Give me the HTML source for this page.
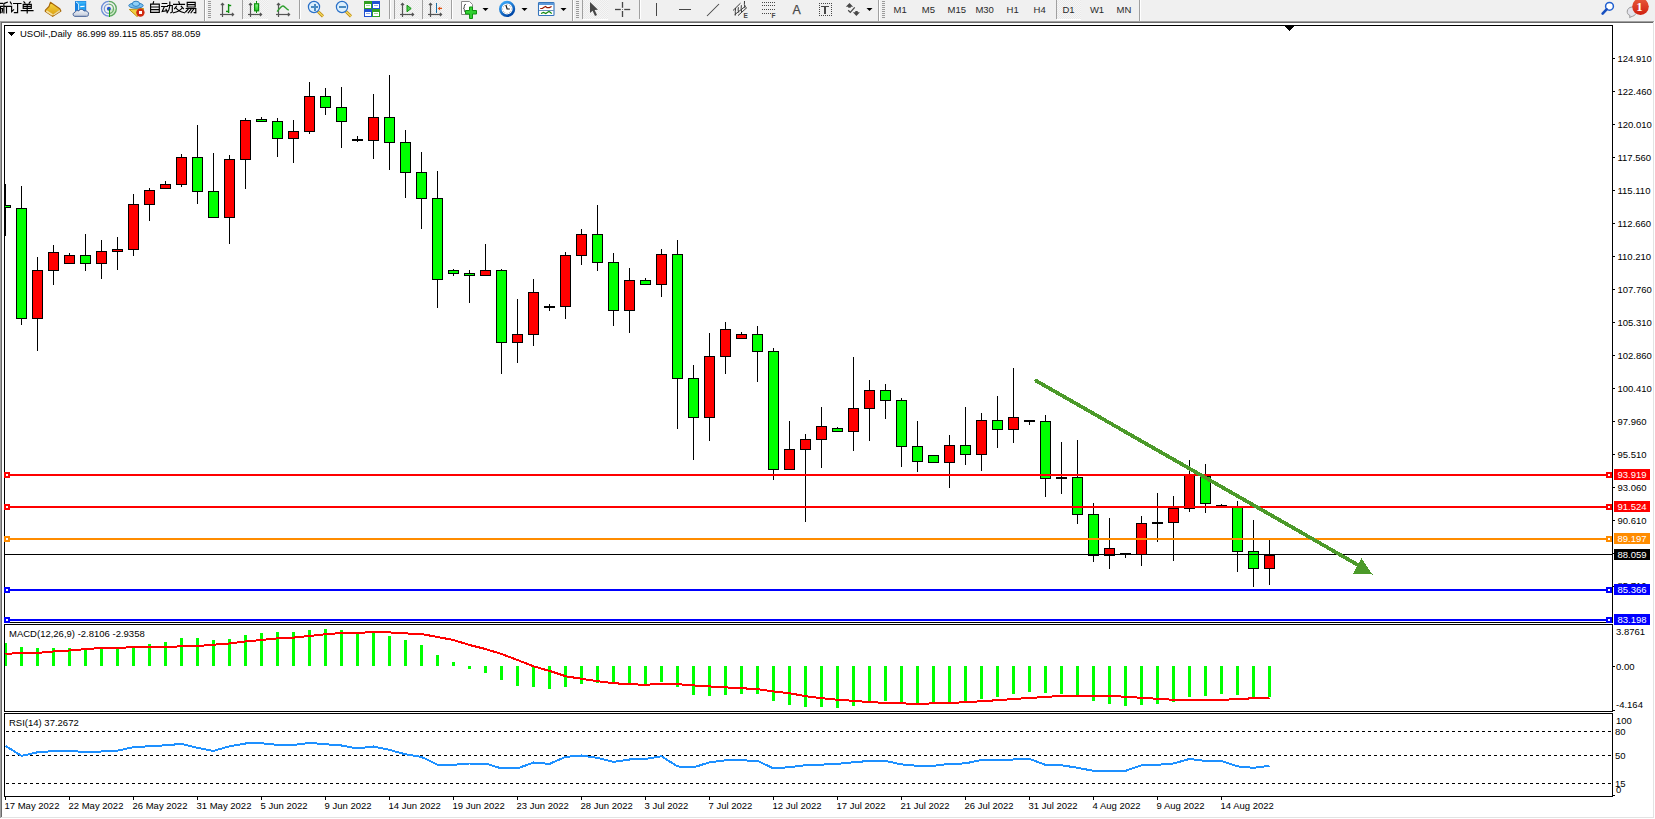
<!DOCTYPE html>
<html><head><meta charset="utf-8"><title>USOil Daily</title>
<style>
html,body{margin:0;padding:0;background:#fff;}
body{width:1655px;height:819px;overflow:hidden;position:relative;}
svg{position:absolute;left:0;top:0;display:block;}
.t{font-family:"Liberation Sans", sans-serif;font-size:9.5px;fill:#000;white-space:pre;}
.tw{fill:#fff;}
.tb{font-family:"Liberation Sans", sans-serif;font-size:9.5px;fill:#2a2a2a;}
</style></head>
<body>
<svg width="1655" height="819" viewBox="0 0 1655 819" shape-rendering="crispEdges" xml:space="preserve">
<rect x="0" y="0" width="1655" height="819" fill="#FFFFFF"/>
<rect x="0" y="0" width="1655" height="21" fill="#F0F0F0"/>
<rect x="0" y="21" width="1654" height="1" fill="#A0A0A0"/>
<rect x="0" y="22" width="1653" height="1" fill="#696969"/>
<rect x="0" y="21" width="1" height="797" fill="#A0A0A0"/>
<rect x="1" y="22" width="1" height="795" fill="#696969"/>
<rect x="1653" y="22" width="1" height="796" fill="#E3E3E3"/>
<rect x="1" y="817" width="1653" height="1" fill="#E3E3E3"/>
<rect x="1654" y="21" width="1" height="798" fill="#FFFFFF"/>
<rect x="0" y="818" width="1655" height="1" fill="#FFFFFF"/>
<rect x="4" y="25" width="1609" height="1" fill="#000"/>
<rect x="4" y="622" width="1609" height="1" fill="#000"/>
<rect x="4" y="25" width="1" height="598" fill="#000"/>
<rect x="1612" y="25" width="1" height="598" fill="#000"/>
<rect x="4" y="624" width="1609" height="1" fill="#000"/>
<rect x="4" y="711" width="1609" height="1" fill="#000"/>
<rect x="4" y="624" width="1" height="88" fill="#000"/>
<rect x="1612" y="624" width="1" height="88" fill="#000"/>
<rect x="4" y="713" width="1609" height="1" fill="#000"/>
<rect x="4" y="796" width="1609" height="1" fill="#000"/>
<rect x="4" y="713" width="1" height="84" fill="#000"/>
<rect x="1612" y="713" width="1" height="84" fill="#000"/>
<defs><clipPath id="mc"><rect x="5" y="26" width="1607" height="596"/></clipPath><clipPath id="mac"><rect x="5" y="625" width="1607" height="86"/></clipPath><clipPath id="rsc"><rect x="5" y="714" width="1607" height="82"/></clipPath></defs>
<g clip-path="url(#mc)">
<rect x="5" y="184" width="1" height="52" fill="#000"/>
<rect x="0" y="205" width="11" height="3" fill="#000"/>
<rect x="1" y="206" width="9" height="1" fill="#00FF00"/>
<rect x="21" y="186" width="1" height="139" fill="#000"/>
<rect x="16" y="208" width="11" height="111" fill="#000"/>
<rect x="17" y="209" width="9" height="109" fill="#00FF00"/>
<rect x="37" y="257" width="1" height="94" fill="#000"/>
<rect x="32" y="270" width="11" height="49" fill="#000"/>
<rect x="33" y="271" width="9" height="47" fill="#FF0000"/>
<rect x="53" y="245" width="1" height="40" fill="#000"/>
<rect x="48" y="252" width="11" height="19" fill="#000"/>
<rect x="49" y="253" width="9" height="17" fill="#FF0000"/>
<rect x="69" y="253" width="1" height="11" fill="#000"/>
<rect x="64" y="255" width="11" height="9" fill="#000"/>
<rect x="65" y="256" width="9" height="7" fill="#FF0000"/>
<rect x="85" y="234" width="1" height="37" fill="#000"/>
<rect x="80" y="255" width="11" height="9" fill="#000"/>
<rect x="81" y="256" width="9" height="7" fill="#00FF00"/>
<rect x="101" y="240" width="1" height="39" fill="#000"/>
<rect x="96" y="251" width="11" height="13" fill="#000"/>
<rect x="97" y="252" width="9" height="11" fill="#FF0000"/>
<rect x="117" y="237" width="1" height="33" fill="#000"/>
<rect x="112" y="249" width="11" height="3" fill="#000"/>
<rect x="113" y="250" width="9" height="1" fill="#FF0000"/>
<rect x="133" y="194" width="1" height="62" fill="#000"/>
<rect x="128" y="204" width="11" height="46" fill="#000"/>
<rect x="129" y="205" width="9" height="44" fill="#FF0000"/>
<rect x="149" y="188" width="1" height="33" fill="#000"/>
<rect x="144" y="190" width="11" height="15" fill="#000"/>
<rect x="145" y="191" width="9" height="13" fill="#FF0000"/>
<rect x="165" y="181" width="1" height="8" fill="#000"/>
<rect x="160" y="184" width="11" height="5" fill="#000"/>
<rect x="161" y="185" width="9" height="3" fill="#FF0000"/>
<rect x="181" y="154" width="1" height="33" fill="#000"/>
<rect x="176" y="157" width="11" height="28" fill="#000"/>
<rect x="177" y="158" width="9" height="26" fill="#FF0000"/>
<rect x="197" y="125" width="1" height="79" fill="#000"/>
<rect x="192" y="157" width="11" height="35" fill="#000"/>
<rect x="193" y="158" width="9" height="33" fill="#00FF00"/>
<rect x="213" y="153" width="1" height="65" fill="#000"/>
<rect x="208" y="191" width="11" height="27" fill="#000"/>
<rect x="209" y="192" width="9" height="25" fill="#00FF00"/>
<rect x="229" y="155" width="1" height="89" fill="#000"/>
<rect x="224" y="159" width="11" height="59" fill="#000"/>
<rect x="225" y="160" width="9" height="57" fill="#FF0000"/>
<rect x="245" y="118" width="1" height="71" fill="#000"/>
<rect x="240" y="120" width="11" height="40" fill="#000"/>
<rect x="241" y="121" width="9" height="38" fill="#FF0000"/>
<rect x="261" y="117" width="1" height="5" fill="#000"/>
<rect x="256" y="119" width="11" height="3" fill="#000"/>
<rect x="257" y="120" width="9" height="1" fill="#00FF00"/>
<rect x="277" y="118" width="1" height="39" fill="#000"/>
<rect x="272" y="121" width="11" height="18" fill="#000"/>
<rect x="273" y="122" width="9" height="16" fill="#00FF00"/>
<rect x="293" y="120" width="1" height="43" fill="#000"/>
<rect x="288" y="131" width="11" height="8" fill="#000"/>
<rect x="289" y="132" width="9" height="6" fill="#FF0000"/>
<rect x="309" y="82" width="1" height="52" fill="#000"/>
<rect x="304" y="96" width="11" height="36" fill="#000"/>
<rect x="305" y="97" width="9" height="34" fill="#FF0000"/>
<rect x="325" y="88" width="1" height="27" fill="#000"/>
<rect x="320" y="96" width="11" height="12" fill="#000"/>
<rect x="321" y="97" width="9" height="10" fill="#00FF00"/>
<rect x="341" y="87" width="1" height="61" fill="#000"/>
<rect x="336" y="107" width="11" height="15" fill="#000"/>
<rect x="337" y="108" width="9" height="13" fill="#00FF00"/>
<rect x="357" y="136" width="1" height="6" fill="#000"/>
<rect x="352" y="139" width="11" height="2" fill="#000"/>
<rect x="373" y="94" width="1" height="65" fill="#000"/>
<rect x="368" y="117" width="11" height="24" fill="#000"/>
<rect x="369" y="118" width="9" height="22" fill="#FF0000"/>
<rect x="389" y="75" width="1" height="95" fill="#000"/>
<rect x="384" y="117" width="11" height="26" fill="#000"/>
<rect x="385" y="118" width="9" height="24" fill="#00FF00"/>
<rect x="405" y="130" width="1" height="68" fill="#000"/>
<rect x="400" y="142" width="11" height="31" fill="#000"/>
<rect x="401" y="143" width="9" height="29" fill="#00FF00"/>
<rect x="421" y="152" width="1" height="77" fill="#000"/>
<rect x="416" y="172" width="11" height="27" fill="#000"/>
<rect x="417" y="173" width="9" height="25" fill="#00FF00"/>
<rect x="437" y="171" width="1" height="137" fill="#000"/>
<rect x="432" y="198" width="11" height="82" fill="#000"/>
<rect x="433" y="199" width="9" height="80" fill="#00FF00"/>
<rect x="453" y="269" width="1" height="7" fill="#000"/>
<rect x="448" y="270" width="11" height="4" fill="#000"/>
<rect x="449" y="271" width="9" height="2" fill="#00FF00"/>
<rect x="469" y="270" width="1" height="33" fill="#000"/>
<rect x="464" y="273" width="11" height="3" fill="#000"/>
<rect x="465" y="274" width="9" height="1" fill="#00FF00"/>
<rect x="485" y="244" width="1" height="32" fill="#000"/>
<rect x="480" y="270" width="11" height="6" fill="#000"/>
<rect x="481" y="271" width="9" height="4" fill="#FF0000"/>
<rect x="501" y="269" width="1" height="105" fill="#000"/>
<rect x="496" y="270" width="11" height="73" fill="#000"/>
<rect x="497" y="271" width="9" height="71" fill="#00FF00"/>
<rect x="517" y="299" width="1" height="64" fill="#000"/>
<rect x="512" y="334" width="11" height="9" fill="#000"/>
<rect x="513" y="335" width="9" height="7" fill="#FF0000"/>
<rect x="533" y="279" width="1" height="67" fill="#000"/>
<rect x="528" y="292" width="11" height="43" fill="#000"/>
<rect x="529" y="293" width="9" height="41" fill="#FF0000"/>
<rect x="549" y="304" width="1" height="7" fill="#000"/>
<rect x="544" y="306" width="11" height="2" fill="#000"/>
<rect x="565" y="252" width="1" height="67" fill="#000"/>
<rect x="560" y="255" width="11" height="52" fill="#000"/>
<rect x="561" y="256" width="9" height="50" fill="#FF0000"/>
<rect x="581" y="229" width="1" height="36" fill="#000"/>
<rect x="576" y="234" width="11" height="22" fill="#000"/>
<rect x="577" y="235" width="9" height="20" fill="#FF0000"/>
<rect x="597" y="205" width="1" height="66" fill="#000"/>
<rect x="592" y="234" width="11" height="29" fill="#000"/>
<rect x="593" y="235" width="9" height="27" fill="#00FF00"/>
<rect x="613" y="253" width="1" height="73" fill="#000"/>
<rect x="608" y="262" width="11" height="49" fill="#000"/>
<rect x="609" y="263" width="9" height="47" fill="#00FF00"/>
<rect x="629" y="268" width="1" height="65" fill="#000"/>
<rect x="624" y="280" width="11" height="31" fill="#000"/>
<rect x="625" y="281" width="9" height="29" fill="#FF0000"/>
<rect x="645" y="278" width="1" height="7" fill="#000"/>
<rect x="640" y="280" width="11" height="5" fill="#000"/>
<rect x="641" y="281" width="9" height="3" fill="#00FF00"/>
<rect x="661" y="249" width="1" height="48" fill="#000"/>
<rect x="656" y="254" width="11" height="31" fill="#000"/>
<rect x="657" y="255" width="9" height="29" fill="#FF0000"/>
<rect x="677" y="240" width="1" height="189" fill="#000"/>
<rect x="672" y="254" width="11" height="125" fill="#000"/>
<rect x="673" y="255" width="9" height="123" fill="#00FF00"/>
<rect x="693" y="365" width="1" height="95" fill="#000"/>
<rect x="688" y="378" width="11" height="40" fill="#000"/>
<rect x="689" y="379" width="9" height="38" fill="#00FF00"/>
<rect x="709" y="333" width="1" height="108" fill="#000"/>
<rect x="704" y="356" width="11" height="62" fill="#000"/>
<rect x="705" y="357" width="9" height="60" fill="#FF0000"/>
<rect x="725" y="322" width="1" height="52" fill="#000"/>
<rect x="720" y="329" width="11" height="28" fill="#000"/>
<rect x="721" y="330" width="9" height="26" fill="#FF0000"/>
<rect x="741" y="332" width="1" height="7" fill="#000"/>
<rect x="736" y="334" width="11" height="5" fill="#000"/>
<rect x="737" y="335" width="9" height="3" fill="#FF0000"/>
<rect x="757" y="326" width="1" height="56" fill="#000"/>
<rect x="752" y="334" width="11" height="18" fill="#000"/>
<rect x="753" y="335" width="9" height="16" fill="#00FF00"/>
<rect x="773" y="348" width="1" height="132" fill="#000"/>
<rect x="768" y="351" width="11" height="119" fill="#000"/>
<rect x="769" y="352" width="9" height="117" fill="#00FF00"/>
<rect x="789" y="421" width="1" height="49" fill="#000"/>
<rect x="784" y="449" width="11" height="21" fill="#000"/>
<rect x="785" y="450" width="9" height="19" fill="#FF0000"/>
<rect x="805" y="434" width="1" height="88" fill="#000"/>
<rect x="800" y="439" width="11" height="11" fill="#000"/>
<rect x="801" y="440" width="9" height="9" fill="#FF0000"/>
<rect x="821" y="407" width="1" height="61" fill="#000"/>
<rect x="816" y="426" width="11" height="14" fill="#000"/>
<rect x="817" y="427" width="9" height="12" fill="#FF0000"/>
<rect x="837" y="427" width="1" height="5" fill="#000"/>
<rect x="832" y="428" width="11" height="4" fill="#000"/>
<rect x="833" y="429" width="9" height="2" fill="#00FF00"/>
<rect x="853" y="357" width="1" height="94" fill="#000"/>
<rect x="848" y="408" width="11" height="24" fill="#000"/>
<rect x="849" y="409" width="9" height="22" fill="#FF0000"/>
<rect x="869" y="380" width="1" height="61" fill="#000"/>
<rect x="864" y="390" width="11" height="19" fill="#000"/>
<rect x="865" y="391" width="9" height="17" fill="#FF0000"/>
<rect x="885" y="384" width="1" height="35" fill="#000"/>
<rect x="880" y="390" width="11" height="11" fill="#000"/>
<rect x="881" y="391" width="9" height="9" fill="#00FF00"/>
<rect x="901" y="398" width="1" height="69" fill="#000"/>
<rect x="896" y="400" width="11" height="47" fill="#000"/>
<rect x="897" y="401" width="9" height="45" fill="#00FF00"/>
<rect x="917" y="421" width="1" height="51" fill="#000"/>
<rect x="912" y="446" width="11" height="16" fill="#000"/>
<rect x="913" y="447" width="9" height="14" fill="#00FF00"/>
<rect x="933" y="455" width="1" height="8" fill="#000"/>
<rect x="928" y="455" width="11" height="8" fill="#000"/>
<rect x="929" y="456" width="9" height="6" fill="#00FF00"/>
<rect x="949" y="435" width="1" height="53" fill="#000"/>
<rect x="944" y="445" width="11" height="18" fill="#000"/>
<rect x="945" y="446" width="9" height="16" fill="#FF0000"/>
<rect x="965" y="407" width="1" height="58" fill="#000"/>
<rect x="960" y="445" width="11" height="10" fill="#000"/>
<rect x="961" y="446" width="9" height="8" fill="#00FF00"/>
<rect x="981" y="413" width="1" height="58" fill="#000"/>
<rect x="976" y="420" width="11" height="35" fill="#000"/>
<rect x="977" y="421" width="9" height="33" fill="#FF0000"/>
<rect x="997" y="396" width="1" height="52" fill="#000"/>
<rect x="992" y="420" width="11" height="10" fill="#000"/>
<rect x="993" y="421" width="9" height="8" fill="#00FF00"/>
<rect x="1013" y="368" width="1" height="75" fill="#000"/>
<rect x="1008" y="417" width="11" height="13" fill="#000"/>
<rect x="1009" y="418" width="9" height="11" fill="#FF0000"/>
<rect x="1029" y="420" width="1" height="5" fill="#000"/>
<rect x="1024" y="420" width="11" height="2" fill="#000"/>
<rect x="1045" y="415" width="1" height="82" fill="#000"/>
<rect x="1040" y="421" width="11" height="58" fill="#000"/>
<rect x="1041" y="422" width="9" height="56" fill="#00FF00"/>
<rect x="1061" y="442" width="1" height="52" fill="#000"/>
<rect x="1056" y="477" width="11" height="2" fill="#000"/>
<rect x="1077" y="440" width="1" height="84" fill="#000"/>
<rect x="1072" y="477" width="11" height="38" fill="#000"/>
<rect x="1073" y="478" width="9" height="36" fill="#00FF00"/>
<rect x="1093" y="503" width="1" height="59" fill="#000"/>
<rect x="1088" y="514" width="11" height="42" fill="#000"/>
<rect x="1089" y="515" width="9" height="40" fill="#00FF00"/>
<rect x="1109" y="518" width="1" height="51" fill="#000"/>
<rect x="1104" y="548" width="11" height="8" fill="#000"/>
<rect x="1105" y="549" width="9" height="6" fill="#FF0000"/>
<rect x="1125" y="553" width="1" height="5" fill="#000"/>
<rect x="1120" y="553" width="11" height="2" fill="#000"/>
<rect x="1141" y="516" width="1" height="50" fill="#000"/>
<rect x="1136" y="523" width="11" height="32" fill="#000"/>
<rect x="1137" y="524" width="9" height="30" fill="#FF0000"/>
<rect x="1157" y="493" width="1" height="49" fill="#000"/>
<rect x="1152" y="522" width="11" height="2" fill="#000"/>
<rect x="1173" y="496" width="1" height="65" fill="#000"/>
<rect x="1168" y="508" width="11" height="15" fill="#000"/>
<rect x="1169" y="509" width="9" height="13" fill="#FF0000"/>
<rect x="1189" y="460" width="1" height="52" fill="#000"/>
<rect x="1184" y="474" width="11" height="35" fill="#000"/>
<rect x="1185" y="475" width="9" height="33" fill="#FF0000"/>
<rect x="1205" y="464" width="1" height="49" fill="#000"/>
<rect x="1200" y="476" width="11" height="28" fill="#000"/>
<rect x="1201" y="477" width="9" height="26" fill="#00FF00"/>
<rect x="1221" y="504" width="1" height="2" fill="#000"/>
<rect x="1216" y="505" width="11" height="1" fill="#000"/>
<rect x="1237" y="501" width="1" height="71" fill="#000"/>
<rect x="1232" y="507" width="11" height="45" fill="#000"/>
<rect x="1233" y="508" width="9" height="43" fill="#00FF00"/>
<rect x="1253" y="520" width="1" height="67" fill="#000"/>
<rect x="1248" y="551" width="11" height="18" fill="#000"/>
<rect x="1249" y="552" width="9" height="16" fill="#00FF00"/>
<rect x="1269" y="540" width="1" height="45" fill="#000"/>
<rect x="1264" y="555" width="11" height="14" fill="#000"/>
<rect x="1265" y="556" width="9" height="12" fill="#FF0000"/>
</g>
<rect x="5" y="554" width="1607" height="1" fill="#000"/>
<rect x="5" y="474" width="1607" height="2" fill="#FF0000"/>
<rect x="4" y="472" width="6" height="6" fill="#FF0000"/>
<rect x="6" y="474" width="2" height="2" fill="#FFFFFF"/>
<rect x="1606" y="472" width="6" height="6" fill="#FF0000"/>
<rect x="1608" y="474" width="2" height="2" fill="#FFFFFF"/>
<rect x="5" y="506" width="1607" height="2" fill="#FF0000"/>
<rect x="4" y="504" width="6" height="6" fill="#FF0000"/>
<rect x="6" y="506" width="2" height="2" fill="#FFFFFF"/>
<rect x="1606" y="504" width="6" height="6" fill="#FF0000"/>
<rect x="1608" y="506" width="2" height="2" fill="#FFFFFF"/>
<rect x="5" y="538" width="1607" height="2" fill="#FF8C00"/>
<rect x="4" y="536" width="6" height="6" fill="#FF8C00"/>
<rect x="6" y="538" width="2" height="2" fill="#FFFFFF"/>
<rect x="1606" y="536" width="6" height="6" fill="#FF8C00"/>
<rect x="1608" y="538" width="2" height="2" fill="#FFFFFF"/>
<rect x="5" y="589" width="1607" height="2" fill="#0000FF"/>
<rect x="4" y="587" width="6" height="6" fill="#0000FF"/>
<rect x="6" y="589" width="2" height="2" fill="#FFFFFF"/>
<rect x="1606" y="587" width="6" height="6" fill="#0000FF"/>
<rect x="1608" y="589" width="2" height="2" fill="#FFFFFF"/>
<rect x="5" y="619" width="1607" height="2" fill="#0000FF"/>
<rect x="4" y="617" width="6" height="6" fill="#0000FF"/>
<rect x="6" y="619" width="2" height="2" fill="#FFFFFF"/>
<rect x="1606" y="617" width="6" height="6" fill="#0000FF"/>
<rect x="1608" y="619" width="2" height="2" fill="#FFFFFF"/>
<g fill="#4C9A2A" stroke="none">
<line x1="1036.3" y1="380.9" x2="1360" y2="566.1" stroke="#4C9A2A" stroke-width="3.7" stroke-linecap="round"/>
<polygon points="1361.5,558 1353,573.5 1372.5,574.5"/>
</g>
<polygon points="1284.5,26 1294.5,26 1289.5,31" fill="#000"/>
<rect x="1613" y="58" width="2" height="1" fill="#000"/>
<text transform="translate(1617.5,62) scale(1.0,1)" class="t">124.910</text>
<rect x="1613" y="91" width="2" height="1" fill="#000"/>
<text transform="translate(1617.5,95) scale(1.0,1)" class="t">122.460</text>
<rect x="1613" y="124" width="2" height="1" fill="#000"/>
<text transform="translate(1617.5,128) scale(1.0,1)" class="t">120.010</text>
<rect x="1613" y="157" width="2" height="1" fill="#000"/>
<text transform="translate(1617.5,161) scale(1.0,1)" class="t">117.560</text>
<rect x="1613" y="190" width="2" height="1" fill="#000"/>
<text transform="translate(1617.5,194) scale(1.0,1)" class="t">115.110</text>
<rect x="1613" y="223" width="2" height="1" fill="#000"/>
<text transform="translate(1617.5,227) scale(1.0,1)" class="t">112.660</text>
<rect x="1613" y="256" width="2" height="1" fill="#000"/>
<text transform="translate(1617.5,260) scale(1.0,1)" class="t">110.210</text>
<rect x="1613" y="289" width="2" height="1" fill="#000"/>
<text transform="translate(1617.5,293) scale(1.0,1)" class="t">107.760</text>
<rect x="1613" y="322" width="2" height="1" fill="#000"/>
<text transform="translate(1617.5,326) scale(1.0,1)" class="t">105.310</text>
<rect x="1613" y="355" width="2" height="1" fill="#000"/>
<text transform="translate(1617.5,359) scale(1.0,1)" class="t">102.860</text>
<rect x="1613" y="388" width="2" height="1" fill="#000"/>
<text transform="translate(1617.5,392) scale(1.0,1)" class="t">100.410</text>
<rect x="1613" y="421" width="2" height="1" fill="#000"/>
<text transform="translate(1617.5,425) scale(1.0,1)" class="t">97.960</text>
<rect x="1613" y="454" width="2" height="1" fill="#000"/>
<text transform="translate(1617.5,458) scale(1.0,1)" class="t">95.510</text>
<rect x="1613" y="487" width="2" height="1" fill="#000"/>
<text transform="translate(1617.5,491) scale(1.0,1)" class="t">93.060</text>
<rect x="1613" y="520" width="2" height="1" fill="#000"/>
<text transform="translate(1617.5,524) scale(1.0,1)" class="t">90.610</text>
<rect x="1613" y="553" width="2" height="1" fill="#000"/>
<text transform="translate(1617.5,557) scale(1.0,1)" class="t">88.160</text>
<rect x="1613" y="586" width="2" height="1" fill="#000"/>
<text transform="translate(1617.5,590) scale(1.0,1)" class="t">85.710</text>
<defs><clipPath id="c857"><rect x="1614" y="580" width="40" height="4"/></clipPath></defs>
<g clip-path="url(#c857)"><text transform="translate(1617.5,589.4) scale(1.0,1)" class="t">85.710</text></g>
<rect x="1614" y="469" width="36" height="11" fill="#FF0000"/>
<text transform="translate(1617.5,478) scale(1.0,1)" class="t tw">93.919</text>
<rect x="1614" y="501" width="36" height="11" fill="#FF0000"/>
<text transform="translate(1617.5,510) scale(1.0,1)" class="t tw">91.524</text>
<rect x="1614" y="533" width="36" height="11" fill="#FF8C00"/>
<text transform="translate(1617.5,542) scale(1.0,1)" class="t tw">89.197</text>
<rect x="1614" y="549" width="36" height="11" fill="#000"/>
<text transform="translate(1617.5,558) scale(1.0,1)" class="t tw">88.059</text>
<rect x="1614" y="584" width="36" height="11" fill="#0000FF"/>
<text transform="translate(1617.5,593) scale(1.0,1)" class="t tw">85.366</text>
<rect x="1614" y="614" width="36" height="11" fill="#0000FF"/>
<text transform="translate(1617.5,623) scale(1.0,1)" class="t tw">83.198</text>
<g clip-path="url(#mac)">
<rect x="4" y="643" width="3" height="23" fill="#00FF00"/>
<rect x="20" y="647" width="3" height="19" fill="#00FF00"/>
<rect x="36" y="648" width="3" height="18" fill="#00FF00"/>
<rect x="52" y="648" width="3" height="18" fill="#00FF00"/>
<rect x="68" y="648" width="3" height="18" fill="#00FF00"/>
<rect x="84" y="649" width="3" height="17" fill="#00FF00"/>
<rect x="100" y="649" width="3" height="17" fill="#00FF00"/>
<rect x="116" y="649" width="3" height="17" fill="#00FF00"/>
<rect x="132" y="648" width="3" height="18" fill="#00FF00"/>
<rect x="148" y="644" width="3" height="22" fill="#00FF00"/>
<rect x="164" y="642" width="3" height="24" fill="#00FF00"/>
<rect x="180" y="638" width="3" height="28" fill="#00FF00"/>
<rect x="196" y="638" width="3" height="28" fill="#00FF00"/>
<rect x="212" y="640" width="3" height="26" fill="#00FF00"/>
<rect x="228" y="639" width="3" height="27" fill="#00FF00"/>
<rect x="244" y="635" width="3" height="31" fill="#00FF00"/>
<rect x="260" y="633" width="3" height="33" fill="#00FF00"/>
<rect x="276" y="632" width="3" height="34" fill="#00FF00"/>
<rect x="292" y="632" width="3" height="34" fill="#00FF00"/>
<rect x="308" y="630" width="3" height="36" fill="#00FF00"/>
<rect x="324" y="629" width="3" height="37" fill="#00FF00"/>
<rect x="340" y="630" width="3" height="36" fill="#00FF00"/>
<rect x="356" y="633" width="3" height="33" fill="#00FF00"/>
<rect x="372" y="633" width="3" height="33" fill="#00FF00"/>
<rect x="388" y="636" width="3" height="30" fill="#00FF00"/>
<rect x="404" y="640" width="3" height="26" fill="#00FF00"/>
<rect x="420" y="645" width="3" height="21" fill="#00FF00"/>
<rect x="436" y="655" width="3" height="11" fill="#00FF00"/>
<rect x="452" y="662" width="3" height="4" fill="#00FF00"/>
<rect x="468" y="666" width="3" height="3" fill="#00FF00"/>
<rect x="484" y="666" width="3" height="7" fill="#00FF00"/>
<rect x="500" y="666" width="3" height="14" fill="#00FF00"/>
<rect x="516" y="666" width="3" height="20" fill="#00FF00"/>
<rect x="532" y="666" width="3" height="21" fill="#00FF00"/>
<rect x="548" y="666" width="3" height="23" fill="#00FF00"/>
<rect x="564" y="666" width="3" height="21" fill="#00FF00"/>
<rect x="580" y="666" width="3" height="18" fill="#00FF00"/>
<rect x="596" y="666" width="3" height="17" fill="#00FF00"/>
<rect x="612" y="666" width="3" height="18" fill="#00FF00"/>
<rect x="628" y="666" width="3" height="18" fill="#00FF00"/>
<rect x="644" y="666" width="3" height="18" fill="#00FF00"/>
<rect x="660" y="666" width="3" height="16" fill="#00FF00"/>
<rect x="676" y="666" width="3" height="21" fill="#00FF00"/>
<rect x="692" y="666" width="3" height="29" fill="#00FF00"/>
<rect x="708" y="666" width="3" height="30" fill="#00FF00"/>
<rect x="724" y="666" width="3" height="29" fill="#00FF00"/>
<rect x="740" y="666" width="3" height="28" fill="#00FF00"/>
<rect x="756" y="666" width="3" height="28" fill="#00FF00"/>
<rect x="772" y="666" width="3" height="35" fill="#00FF00"/>
<rect x="788" y="666" width="3" height="39" fill="#00FF00"/>
<rect x="804" y="666" width="3" height="41" fill="#00FF00"/>
<rect x="820" y="666" width="3" height="41" fill="#00FF00"/>
<rect x="836" y="666" width="3" height="42" fill="#00FF00"/>
<rect x="852" y="666" width="3" height="40" fill="#00FF00"/>
<rect x="868" y="666" width="3" height="36" fill="#00FF00"/>
<rect x="884" y="666" width="3" height="35" fill="#00FF00"/>
<rect x="900" y="666" width="3" height="36" fill="#00FF00"/>
<rect x="916" y="666" width="3" height="37" fill="#00FF00"/>
<rect x="932" y="666" width="3" height="37" fill="#00FF00"/>
<rect x="948" y="666" width="3" height="36" fill="#00FF00"/>
<rect x="964" y="666" width="3" height="35" fill="#00FF00"/>
<rect x="980" y="666" width="3" height="33" fill="#00FF00"/>
<rect x="996" y="666" width="3" height="31" fill="#00FF00"/>
<rect x="1012" y="666" width="3" height="28" fill="#00FF00"/>
<rect x="1028" y="666" width="3" height="26" fill="#00FF00"/>
<rect x="1044" y="666" width="3" height="27" fill="#00FF00"/>
<rect x="1060" y="666" width="3" height="28" fill="#00FF00"/>
<rect x="1076" y="666" width="3" height="29" fill="#00FF00"/>
<rect x="1092" y="666" width="3" height="35" fill="#00FF00"/>
<rect x="1108" y="666" width="3" height="38" fill="#00FF00"/>
<rect x="1124" y="666" width="3" height="40" fill="#00FF00"/>
<rect x="1140" y="666" width="3" height="39" fill="#00FF00"/>
<rect x="1156" y="666" width="3" height="38" fill="#00FF00"/>
<rect x="1172" y="666" width="3" height="36" fill="#00FF00"/>
<rect x="1188" y="666" width="3" height="31" fill="#00FF00"/>
<rect x="1204" y="666" width="3" height="30" fill="#00FF00"/>
<rect x="1220" y="666" width="3" height="28" fill="#00FF00"/>
<rect x="1236" y="666" width="3" height="29" fill="#00FF00"/>
<rect x="1252" y="666" width="3" height="31" fill="#00FF00"/>
<rect x="1268" y="666" width="3" height="31" fill="#00FF00"/>
<polyline points="5.5,653.9 21.5,652.9 37.5,652.9 53.5,651.5 69.5,650.5 85.5,649.1 101.5,648 117.5,648 133.5,647.1 149.5,647.1 165.5,647 181.5,646.3 197.5,646 213.5,644.7 229.5,643.5 245.5,641.5 261.5,640 277.5,638.4 293.5,637.6 309.5,636 325.5,634.2 341.5,633 357.5,633 373.5,632 389.5,632.4 405.5,633.4 421.5,634 437.5,637 453.5,640 469.5,645 485.5,649 501.5,654 517.5,660 533.5,666.3 549.5,670.9 565.5,676.2 581.5,678.8 597.5,681.2 613.5,683.2 629.5,684.2 645.5,684.8 661.5,683.8 677.5,684.2 693.5,685.4 709.5,686.4 725.5,687.4 741.5,688.2 757.5,689.2 773.5,691.4 789.5,693.2 805.5,696.2 821.5,698.2 837.5,699.8 853.5,700.8 869.5,702.2 885.5,702.8 901.5,703.4 917.5,703.8 933.5,703.4 949.5,702.8 965.5,702.3 981.5,701.2 997.5,700.2 1013.5,699 1029.5,698 1045.5,697 1061.5,695.8 1077.5,695.8 1093.5,695.8 1109.5,695.8 1125.5,696.8 1141.5,697.8 1157.5,698.8 1173.5,699.8 1189.5,699.8 1205.5,699.8 1221.5,699.8 1237.5,699.2 1253.5,698.2 1269.5,697.8" fill="none" stroke="#FF0000" stroke-width="2" stroke-linejoin="round"/>
</g>
<rect x="1613" y="666" width="2" height="1" fill="#000"/>
<rect x="1613" y="710" width="2" height="1" fill="#000"/>
<text transform="translate(1616,635) scale(1.0,1)" class="t">3.8761</text>
<text transform="translate(1616,670) scale(1.0,1)" class="t">0.00</text>
<text transform="translate(1616,708) scale(1.0,1)" class="t">-4.164</text>
<text transform="translate(9,637) scale(1.0,1)" class="t">MACD(12,26,9) -2.8106 -2.9358</text>
<g clip-path="url(#rsc)">
<line x1="6" y1="731.5" x2="1612" y2="731.5" stroke="#000" stroke-width="1" stroke-dasharray="3,3"/>
<line x1="6" y1="755.5" x2="1612" y2="755.5" stroke="#000" stroke-width="1" stroke-dasharray="3,3"/>
<line x1="6" y1="783.5" x2="1612" y2="783.5" stroke="#000" stroke-width="1" stroke-dasharray="3,3"/>
<polyline points="5.5,745.9 21.5,755.9 37.5,752.3 53.5,751.1 69.5,751.1 85.5,751.9 101.5,751.5 117.5,750.7 133.5,747.1 149.5,746.3 165.5,745.3 181.5,743.9 197.5,747.9 213.5,750.9 229.5,746.3 245.5,743.5 261.5,743.3 277.5,744.9 293.5,744.9 309.5,742.9 325.5,744.2 341.5,745.5 357.5,748.5 373.5,746.5 389.5,749.9 405.5,754.3 421.5,756.9 437.5,764.8 453.5,764.8 469.5,763.5 485.5,763.5 501.5,768.4 517.5,768.4 533.5,762.5 549.5,763.9 565.5,756.9 581.5,755.5 597.5,757.9 613.5,761.9 629.5,759.5 645.5,758.9 661.5,756.3 677.5,766.4 693.5,767.4 709.5,762.3 725.5,760.3 741.5,760.3 757.5,760.9 773.5,768.4 789.5,767.2 805.5,765.2 821.5,764.6 837.5,763.9 853.5,762.3 869.5,760.9 885.5,760.9 901.5,764.4 917.5,765.8 933.5,765.8 949.5,763.9 965.5,763.4 981.5,759.9 997.5,759.9 1013.5,759.5 1029.5,758.9 1045.5,764.8 1061.5,765.2 1077.5,767.8 1093.5,770.8 1109.5,770.8 1125.5,770.8 1141.5,765.4 1157.5,764.8 1173.5,763.5 1189.5,758.9 1205.5,760.9 1221.5,760.9 1237.5,766.4 1253.5,767.8 1269.5,765.8" fill="none" stroke="#1E90FF" stroke-width="2" stroke-linejoin="round"/>
</g>
<rect x="1613" y="795" width="2" height="1" fill="#000"/>
<text transform="translate(1616,724) scale(1.0,1)" class="t">100</text>
<text transform="translate(1615,735) scale(1.0,1)" class="t">80</text>
<text transform="translate(1615,759) scale(1.0,1)" class="t">50</text>
<text transform="translate(1615,787) scale(1.0,1)" class="t">15</text>
<text transform="translate(1616,793) scale(1.0,1)" class="t">0</text>
<text transform="translate(9,726) scale(1.0,1)" class="t">RSI(14) 37.2672</text>
<rect x="5" y="797" width="1" height="3" fill="#000"/>
<text transform="translate(4.5,809) scale(1.0,1)" class="t">17 May 2022</text>
<rect x="69" y="797" width="1" height="3" fill="#000"/>
<text transform="translate(68.5,809) scale(1.0,1)" class="t">22 May 2022</text>
<rect x="133" y="797" width="1" height="3" fill="#000"/>
<text transform="translate(132.5,809) scale(1.0,1)" class="t">26 May 2022</text>
<rect x="197" y="797" width="1" height="3" fill="#000"/>
<text transform="translate(196.5,809) scale(1.0,1)" class="t">31 May 2022</text>
<rect x="261" y="797" width="1" height="3" fill="#000"/>
<text transform="translate(260.5,809) scale(1.0,1)" class="t">5 Jun 2022</text>
<rect x="325" y="797" width="1" height="3" fill="#000"/>
<text transform="translate(324.5,809) scale(1.0,1)" class="t">9 Jun 2022</text>
<rect x="389" y="797" width="1" height="3" fill="#000"/>
<text transform="translate(388.5,809) scale(1.0,1)" class="t">14 Jun 2022</text>
<rect x="453" y="797" width="1" height="3" fill="#000"/>
<text transform="translate(452.5,809) scale(1.0,1)" class="t">19 Jun 2022</text>
<rect x="517" y="797" width="1" height="3" fill="#000"/>
<text transform="translate(516.5,809) scale(1.0,1)" class="t">23 Jun 2022</text>
<rect x="581" y="797" width="1" height="3" fill="#000"/>
<text transform="translate(580.5,809) scale(1.0,1)" class="t">28 Jun 2022</text>
<rect x="645" y="797" width="1" height="3" fill="#000"/>
<text transform="translate(644.5,809) scale(1.0,1)" class="t">3 Jul 2022</text>
<rect x="709" y="797" width="1" height="3" fill="#000"/>
<text transform="translate(708.5,809) scale(1.0,1)" class="t">7 Jul 2022</text>
<rect x="773" y="797" width="1" height="3" fill="#000"/>
<text transform="translate(772.5,809) scale(1.0,1)" class="t">12 Jul 2022</text>
<rect x="837" y="797" width="1" height="3" fill="#000"/>
<text transform="translate(836.5,809) scale(1.0,1)" class="t">17 Jul 2022</text>
<rect x="901" y="797" width="1" height="3" fill="#000"/>
<text transform="translate(900.5,809) scale(1.0,1)" class="t">21 Jul 2022</text>
<rect x="965" y="797" width="1" height="3" fill="#000"/>
<text transform="translate(964.5,809) scale(1.0,1)" class="t">26 Jul 2022</text>
<rect x="1029" y="797" width="1" height="3" fill="#000"/>
<text transform="translate(1028.5,809) scale(1.0,1)" class="t">31 Jul 2022</text>
<rect x="1093" y="797" width="1" height="3" fill="#000"/>
<text transform="translate(1092.5,809) scale(1.0,1)" class="t">4 Aug 2022</text>
<rect x="1157" y="797" width="1" height="3" fill="#000"/>
<text transform="translate(1156.5,809) scale(1.0,1)" class="t">9 Aug 2022</text>
<rect x="1221" y="797" width="1" height="3" fill="#000"/>
<text transform="translate(1220.5,809) scale(1.0,1)" class="t">14 Aug 2022</text>
<polygon points="8,32 15,32 11.5,36" fill="#000"/>
<text transform="translate(20,37) scale(1.0,1)" class="t">USOil-,Daily  86.999 89.115 85.857 88.059</text>
<defs><pattern id="chk" x="0" y="0" width="2" height="2" patternUnits="userSpaceOnUse"><rect width="2" height="2" fill="#F6F6F6"/><rect width="1" height="1" fill="#E9E9E9"/><rect x="1" y="1" width="1" height="1" fill="#E9E9E9"/></pattern><linearGradient id="gold" x1="0" y1="0" x2="0" y2="1"><stop offset="0" stop-color="#F8D840"/><stop offset="1" stop-color="#D89A10"/></linearGradient><linearGradient id="redb" x1="0" y1="0" x2="0" y2="1"><stop offset="0" stop-color="#E85A3A"/><stop offset="1" stop-color="#D02010"/></linearGradient><linearGradient id="bluebox" x1="0" y1="0" x2="1" y2="0"><stop offset="0" stop-color="#1E8EF0"/><stop offset="1" stop-color="#30A8F8"/></linearGradient><linearGradient id="cgr" x1="0" y1="0" x2="0" y2="1"><stop offset="0" stop-color="#90F890"/><stop offset="1" stop-color="#20C820"/></linearGradient><linearGradient id="cloud" x1="0" y1="0" x2="0" y2="1"><stop offset="0" stop-color="#F6F8FC"/><stop offset="1" stop-color="#C2CADA"/></linearGradient><linearGradient id="clk" x1="0" y1="0" x2="0.6" y2="1"><stop offset="0" stop-color="#40B0FF"/><stop offset="1" stop-color="#0048A8"/></linearGradient></defs>
<g fill="none" stroke="#000" stroke-width="1.15" stroke-linecap="square" shape-rendering="auto">
<path d="M0,3.3 H2.6 M0,6.3 H3 M0,8.6 H2.6 M0.5,7 V12.8 M2.6,9.8 L2,12.6"/>
<path d="M7.3,2.2 L4.3,3.4 M3.9,3.5 V12.8 M4,6.4 H8.4 M6.5,6.4 V12.8"/>
<path d="M10.3,2 L11.4,3.9 M9.6,6.4 H11.6 V11.6 L13.6,9.7"/>
<path d="M13.6,3.5 H21 M17.6,3.5 V12.6 H14.4"/>
<path d="M23.9,1.8 L25,3.2 M30.2,1.8 L29.1,3.2"/>
<path d="M23.2,4.3 H31.3 V8.4 H23.2 Z M23.2,6.35 H31.3 M27.2,4.3 V13 M21.3,10.6 H33"/>
</g>
<path d="M50.4,2.3 L59.8,8.7 L60.9,11 L52.7,16.4 L45.2,11.2 L45.4,10.2 L49,6.5 Z" fill="url(#gold)" stroke="#A86808" stroke-width="1.1" stroke-linejoin="round" shape-rendering="auto"/>
<path d="M46.3,11 L52.6,15" fill="none" stroke="#F6E2A0" stroke-width="1.6" shape-rendering="auto"/>
<path d="M53.4,15 L59.9,10.6" fill="none" stroke="#E8D8A8" stroke-width="1.4" shape-rendering="auto"/>
<rect x="75.5" y="1.5" width="10.2" height="9" fill="#22A2F2" stroke="#1A78D8" stroke-width="1" shape-rendering="auto"/>
<polygon points="75.5,1.5 78.6,4 78.6,10.5 75.5,10.5" fill="#1482E2" shape-rendering="auto"/>
<polygon points="75.5,1.5 85.7,1.5 85.7,3.6 78.6,4" fill="#3AB2F6" shape-rendering="auto"/>
<polyline points="75.9,1.9 78.6,4 78.6,10" fill="none" stroke="#E6F6FF" stroke-width="0.9" shape-rendering="auto"/>
<line x1="80.3" y1="6.6" x2="84.6" y2="6.2" stroke="#FFFFFF" stroke-width="1.1" shape-rendering="auto"/>
<path d="M75,16.3 C72.6,16.3 72.4,12.6 75,12.3 C75.4,10.6 77.6,10.2 78.6,11 C79.4,9 83.2,8.8 84,11 C86.6,10.2 89.4,12.6 88.3,14.6 C88.6,15.8 87.6,16.3 86.5,16.3 Z" fill="url(#cloud)" stroke="#3C5A92" stroke-width="1" shape-rendering="auto"/>
<path d="M108.9,8.8 L108.9,16.6 A7.8,7.8 0 0 0 116.7,8.8 Z" fill="#CFE8C8" shape-rendering="auto"/>
<g fill="none" stroke-width="1.3" shape-rendering="auto">
<path d="M108.9,1.4 A7.4,7.4 0 0 0 108.9,16.2" stroke="#6E8FD8"/>
<path d="M108.9,1.4 A7.4,7.4 0 0 1 108.9,16.2" stroke="#5DA860"/>
<path d="M108.9,4.2 A4.6,4.6 0 0 0 108.9,13.4" stroke="#7C9CDC"/>
<path d="M108.9,4.2 A4.6,4.6 0 0 1 108.9,13.4" stroke="#6AB06A"/>
</g>
<circle cx="108.9" cy="8.8" r="2" fill="#2A58C8" shape-rendering="auto"/>
<rect x="108.6" y="9.2" width="1.6" height="7.4" fill="#18A018"/>
<path d="M129.3,9.5 L137,16.5 L143,12 L143.5,8.5 Z" fill="#F0D040" stroke="#C09010" stroke-width="1" shape-rendering="auto"/>
<ellipse cx="136" cy="5.6" rx="7.2" ry="2.6" fill="#78C0F0" stroke="#3080C0" stroke-width="1" shape-rendering="auto"/>
<ellipse cx="136" cy="3.8" rx="3.6" ry="2.6" fill="#90D0F8" stroke="#3080C0" stroke-width="1" shape-rendering="auto"/>
<circle cx="140.4" cy="12.6" r="4.2" fill="#D02A10" shape-rendering="auto"/>
<rect x="139" y="11" width="3" height="3" fill="#FFFFFF"/>
<g fill="none" stroke="#000" stroke-width="1.15" stroke-linecap="square" shape-rendering="auto">
<path d="M153.6,1.8 L153,3.8 M150.6,4.2 H159.3 V12.3 H150.6 Z M150.6,7 H159.3 M150.6,9.6 H159.3"/>
<path d="M162.2,3.5 H166.8 M161.6,6.5 H167.5 M164.3,6.8 L162.2,11.5 L167,10.6 M166,9.2 L167.4,12"/>
<path d="M167.8,5.5 H172.3 V12 L170.8,12.8 M169.8,2 V6 Q169.4,10 167,12.8"/>
<path d="M178.8,1.8 L179.4,3.4 M173.6,4.3 H184.5 M176.4,6.2 L174.6,8.6 M181.2,6.2 L183.4,8.6 M176,8 Q178.6,11.6 184.5,12.8 M182.2,8 Q179.4,11.6 173.5,12.8"/>
<path d="M187.2,2.3 H195.2 V7 H187.2 Z M187.2,4.6 H195.2 M186.2,8.5 H195.8 V12.8 L194.2,12.6 M188.6,8.6 L185.6,12 M191.4,8.6 L188.2,12.8 M194,8.6 L191,12.8"/>
</g>
<rect x="204" y="0" width="1" height="21" fill="#A0A0A0"/>
<rect x="205" y="0" width="1" height="21" fill="#FFFFFF"/>
<rect x="208" y="1" width="3" height="1" fill="#9A9A9A"/>
<rect x="208" y="3" width="3" height="1" fill="#9A9A9A"/>
<rect x="208" y="5" width="3" height="1" fill="#9A9A9A"/>
<rect x="208" y="7" width="3" height="1" fill="#9A9A9A"/>
<rect x="208" y="9" width="3" height="1" fill="#9A9A9A"/>
<rect x="208" y="11" width="3" height="1" fill="#9A9A9A"/>
<rect x="208" y="13" width="3" height="1" fill="#9A9A9A"/>
<rect x="208" y="15" width="3" height="1" fill="#9A9A9A"/>
<rect x="208" y="17" width="3" height="1" fill="#9A9A9A"/>
<g stroke="#555555" stroke-width="1.2" fill="none" shape-rendering="auto"><line x1="222.5" y1="3.5" x2="222.5" y2="17"/><line x1="220" y1="14.5" x2="233.5" y2="14.5"/><polyline points="220.9,5.1 222.5,3.4 224.1,5.1"/><polyline points="231.9,12.9 233.6,14.5 231.9,16.1"/></g>
<g stroke="#109010" stroke-width="1.4" fill="none" shape-rendering="auto"><line x1="228.6" y1="4" x2="228.6" y2="13"/><line x1="228.6" y1="5.5" x2="231.2" y2="5.5"/><line x1="226" y1="11.4" x2="228.6" y2="11.4"/></g>
<rect x="242" y="0" width="1" height="19" fill="#A0A0A0"/>
<rect x="243" y="0" width="25" height="19" fill="url(#chk)"/>
<rect x="243" y="19" width="25" height="1" fill="#FFFFFF"/>
<g stroke="#555555" stroke-width="1.2" fill="none" shape-rendering="auto"><line x1="250.5" y1="3.5" x2="250.5" y2="17"/><line x1="248" y1="14.5" x2="261.5" y2="14.5"/><polyline points="248.9,5.1 250.5,3.4 252.1,5.1"/><polyline points="259.9,12.9 261.6,14.5 259.9,16.1"/></g>
<rect x="256" y="1" width="1.2" height="12" fill="#109010"/>
<rect x="254.6" y="3.8" width="4" height="7" fill="url(#cgr)" stroke="#109010" stroke-width="1.2" shape-rendering="auto"/>
<g stroke="#555555" stroke-width="1.2" fill="none" shape-rendering="auto"><line x1="278.5" y1="3.5" x2="278.5" y2="17"/><line x1="276" y1="14.5" x2="289.5" y2="14.5"/><polyline points="276.9,5.1 278.5,3.4 280.1,5.1"/><polyline points="287.9,12.9 289.6,14.5 287.9,16.1"/></g>
<path d="M277.1,11.6 C279.5,8.5 281.5,5.8 283.1,6 C284.8,6.2 286.5,9.6 288.8,10.1" fill="none" stroke="#30A030" stroke-width="1.3" shape-rendering="auto"/>
<rect x="299" y="0" width="1" height="19" fill="#A0A0A0"/>
<rect x="300" y="0" width="1" height="19" fill="#FFFFFF"/>
<line x1="318" y1="11.5" x2="323" y2="16.3" stroke="#C08A10" stroke-width="3" shape-rendering="auto"/>
<line x1="318" y1="11.5" x2="323" y2="16.3" stroke="#F0D860" stroke-width="1.4" shape-rendering="auto"/>
<circle cx="314" cy="7" r="5.6" fill="#DCEFFC" stroke="#2A70C8" stroke-width="1.2" shape-rendering="auto"/>
<rect x="311" y="6" width="7" height="2" fill="#4A8AC0"/>
<rect x="313.5" y="3.5" width="2" height="7" fill="#4A8AC0"/>
<line x1="346" y1="11.5" x2="351" y2="16.3" stroke="#C08A10" stroke-width="3" shape-rendering="auto"/>
<line x1="346" y1="11.5" x2="351" y2="16.3" stroke="#F0D860" stroke-width="1.4" shape-rendering="auto"/>
<circle cx="342" cy="7" r="5.6" fill="#DCEFFC" stroke="#2A70C8" stroke-width="1.2" shape-rendering="auto"/>
<rect x="339" y="6" width="7" height="2" fill="#4A8AC0"/>
<rect x="364" y="1" width="8" height="8" fill="#30A020"/>
<rect x="365" y="4" width="6" height="4" fill="#FFFFFF"/>
<rect x="366" y="5" width="4" height="1" fill="#A0D890"/>
<rect x="372" y="1" width="8" height="8" fill="#2050D0"/>
<rect x="373" y="4" width="6" height="4" fill="#FFFFFF"/>
<rect x="374" y="5" width="4" height="1" fill="#90A8E8"/>
<rect x="364" y="9" width="8" height="8" fill="#2050D0"/>
<rect x="365" y="12" width="6" height="4" fill="#FFFFFF"/>
<rect x="366" y="13" width="4" height="1" fill="#90A8E8"/>
<rect x="372" y="9" width="8" height="8" fill="#30A020"/>
<rect x="373" y="12" width="6" height="4" fill="#FFFFFF"/>
<rect x="374" y="13" width="4" height="1" fill="#A0D890"/>
<rect x="389" y="0" width="1" height="19" fill="#A0A0A0"/>
<rect x="390" y="0" width="1" height="19" fill="#FFFFFF"/>
<rect x="394" y="0" width="1" height="19" fill="#A0A0A0"/>
<rect x="395" y="0" width="24" height="19" fill="url(#chk)"/>
<rect x="395" y="19" width="24" height="1" fill="#FFFFFF"/>
<g stroke="#555555" stroke-width="1.2" fill="none" shape-rendering="auto"><line x1="402.5" y1="3.5" x2="402.5" y2="17"/><line x1="400" y1="14.5" x2="413.5" y2="14.5"/><polyline points="400.9,5.1 402.5,3.4 404.1,5.1"/><polyline points="411.9,12.9 413.6,14.5 411.9,16.1"/></g>
<polygon points="407,5.2 411.2,8.5 407,11.8" fill="#50D050" stroke="#109010" stroke-width="1" shape-rendering="auto"/>
<rect x="422" y="0" width="1" height="19" fill="#A0A0A0"/>
<rect x="423" y="0" width="25" height="19" fill="url(#chk)"/>
<rect x="423" y="19" width="25" height="1" fill="#FFFFFF"/>
<g stroke="#555555" stroke-width="1.2" fill="none" shape-rendering="auto"><line x1="430.5" y1="3.5" x2="430.5" y2="17"/><line x1="428" y1="14.5" x2="441.5" y2="14.5"/><polyline points="428.9,5.1 430.5,3.4 432.1,5.1"/><polyline points="439.9,12.9 441.6,14.5 439.9,16.1"/></g>
<rect x="436" y="3" width="1.4" height="10" fill="#1870A8"/>
<polygon points="437.6,8.4 440.2,6.4 440,7.8 442,7.8 442,9 440,9 440.2,10.4" fill="#E05010" shape-rendering="auto"/>
<rect x="451" y="0" width="1" height="19" fill="#A0A0A0"/>
<rect x="452" y="0" width="1" height="19" fill="#FFFFFF"/>
<path d="M461.5,1.5 H469.5 L472.5,4.5 V14.5 H461.5 Z" fill="#FFFFFF" stroke="#8A8A8A" stroke-width="1" shape-rendering="auto"/>
<path d="M465.9,4.3 Q464.2,4.3 464.3,6.4 L464.3,7.4 Q464.3,8.2 463.4,8.3 Q464.3,8.4 464.3,9.2 L464.3,10.2 Q464.2,12.2 465.9,12.2" fill="none" stroke="#3A3A3A" stroke-width="0.9" shape-rendering="auto"/>
<path d="M469.5,7 H472.5 V10.5 H476.5 V14 H472.5 V18.5 H469.5 V14 H465.5 V10.5 H469.5 Z" fill="#30D030" stroke="#109010" stroke-width="1" shape-rendering="auto"/>
<polygon points="482.5,8 488.5,8 485.5,11" fill="#000" shape-rendering="auto"/>
<circle cx="507.1" cy="8.9" r="6.8" fill="#FFFFFF" stroke="url(#clk)" stroke-width="2.6" shape-rendering="auto"/>
<g fill="#666" shape-rendering="auto"><circle cx="507.10" cy="4.60" r="0.45"/><circle cx="509.30" cy="5.19" r="0.45"/><circle cx="510.91" cy="6.80" r="0.45"/><circle cx="511.50" cy="9.00" r="0.45"/><circle cx="510.91" cy="11.20" r="0.45"/><circle cx="509.30" cy="12.81" r="0.45"/><circle cx="507.10" cy="13.40" r="0.45"/><circle cx="504.90" cy="12.81" r="0.45"/><circle cx="503.29" cy="11.20" r="0.45"/><circle cx="502.70" cy="9.00" r="0.45"/><circle cx="503.29" cy="6.80" r="0.45"/><circle cx="504.90" cy="5.19" r="0.45"/></g>
<path d="M505.9,5 L507.1,9 H509.8" fill="none" stroke="#1A1A1A" stroke-width="1.2" shape-rendering="auto"/>
<polygon points="521.5,8 527.5,8 524.5,11" fill="#000" shape-rendering="auto"/>
<rect x="538.5" y="2.5" width="15.5" height="13" rx="0.8" fill="#FFFFFF" stroke="#3474BC" stroke-width="1.1" shape-rendering="auto"/>
<rect x="539" y="3" width="15" height="2" fill="#5C98D8"/>
<rect x="539" y="10" width="15" height="1" fill="#6A94C0"/>
<polyline points="540.2,8.5 542.4,8.5 543.6,7.5 545.6,6.5 547,7.6 549.4,7.6 551.6,6.5" fill="none" stroke="#981800" stroke-width="1.2" shape-rendering="auto"/>
<polyline points="541,13.5 543.5,12.5 545.8,13.5 547.6,12.3 549,11.4 550.6,12.5 551.7,13.6" fill="none" stroke="#108A10" stroke-width="1.2" shape-rendering="auto"/>
<polygon points="560.5,8 566.5,8 563.5,11" fill="#000" shape-rendering="auto"/>
<rect x="572" y="0" width="1" height="21" fill="#A0A0A0"/>
<rect x="573" y="0" width="1" height="21" fill="#FFFFFF"/>
<rect x="576" y="1" width="3" height="1" fill="#9A9A9A"/>
<rect x="576" y="3" width="3" height="1" fill="#9A9A9A"/>
<rect x="576" y="5" width="3" height="1" fill="#9A9A9A"/>
<rect x="576" y="7" width="3" height="1" fill="#9A9A9A"/>
<rect x="576" y="9" width="3" height="1" fill="#9A9A9A"/>
<rect x="576" y="11" width="3" height="1" fill="#9A9A9A"/>
<rect x="576" y="13" width="3" height="1" fill="#9A9A9A"/>
<rect x="576" y="15" width="3" height="1" fill="#9A9A9A"/>
<rect x="576" y="17" width="3" height="1" fill="#9A9A9A"/>
<rect x="582" y="0" width="1" height="19" fill="#A0A0A0"/>
<rect x="583" y="0" width="25" height="19" fill="url(#chk)"/>
<rect x="583" y="19" width="25" height="1" fill="#FFFFFF"/>
<polygon points="590,2 590,13 592.6,10.8 595,16 597,15 594.6,10 598,9.8" fill="#474747" shape-rendering="auto"/>
<g stroke="#474747" stroke-width="1.3" shape-rendering="auto"><line x1="622.5" y1="2" x2="622.5" y2="7.8"/><line x1="622.5" y1="11" x2="622.5" y2="17"/><line x1="615" y1="9.5" x2="620.8" y2="9.5"/><line x1="624.2" y1="9.5" x2="630.2" y2="9.5"/></g>
<rect x="622" y="9" width="1" height="1" fill="#888"/>
<rect x="639" y="0" width="1" height="19" fill="#A0A0A0"/>
<rect x="640" y="0" width="1" height="19" fill="#FFFFFF"/>
<rect x="656" y="3" width="1.4" height="13" fill="#474747"/>
<rect x="679" y="9" width="12" height="1.4" fill="#474747"/>
<line x1="707" y1="16" x2="719" y2="4" stroke="#474747" stroke-width="1.05" shape-rendering="auto"/>
<g stroke="#3C3C3C" stroke-width="1" fill="none" shape-rendering="auto"><line x1="733" y1="10.5" x2="740.5" y2="3.2"/><line x1="734.5" y1="14.8" x2="746" y2="5.8"/><line x1="738" y1="15.6" x2="747" y2="7.5"/><path d="M735.6,8 Q735,11.5 735.4,15.5"/><path d="M738.4,7.2 Q737.8,10 738.6,12.5"/><path d="M741.4,5.2 Q740.8,8.5 741.6,12"/><path d="M744.5,1 Q744,4.5 745,8.2"/></g>
<text x="743.5" y="18" font-family="Liberation Sans, sans-serif" font-size="6.5" font-weight="bold" fill="#474747">E</text>
<rect x="762" y="2" width="1" height="1" fill="#474747"/>
<rect x="764" y="2" width="1" height="1" fill="#474747"/>
<rect x="766" y="2" width="1" height="1" fill="#474747"/>
<rect x="768" y="2" width="1" height="1" fill="#474747"/>
<rect x="770" y="2" width="1" height="1" fill="#474747"/>
<rect x="772" y="2" width="1" height="1" fill="#474747"/>
<rect x="774" y="2" width="1" height="1" fill="#474747"/>
<rect x="762" y="5" width="1" height="1" fill="#474747"/>
<rect x="764" y="5" width="1" height="1" fill="#474747"/>
<rect x="766" y="5" width="1" height="1" fill="#474747"/>
<rect x="768" y="5" width="1" height="1" fill="#474747"/>
<rect x="770" y="5" width="1" height="1" fill="#474747"/>
<rect x="772" y="5" width="1" height="1" fill="#474747"/>
<rect x="774" y="5" width="1" height="1" fill="#474747"/>
<rect x="762" y="9" width="1" height="1" fill="#474747"/>
<rect x="764" y="9" width="1" height="1" fill="#474747"/>
<rect x="766" y="9" width="1" height="1" fill="#474747"/>
<rect x="768" y="9" width="1" height="1" fill="#474747"/>
<rect x="770" y="9" width="1" height="1" fill="#474747"/>
<rect x="772" y="9" width="1" height="1" fill="#474747"/>
<rect x="774" y="9" width="1" height="1" fill="#474747"/>
<rect x="762" y="13" width="1" height="1" fill="#474747"/>
<rect x="764" y="13" width="1" height="1" fill="#474747"/>
<rect x="766" y="13" width="1" height="1" fill="#474747"/>
<rect x="768" y="13" width="1" height="1" fill="#474747"/>
<rect x="770" y="13" width="1" height="1" fill="#474747"/>
<text x="771.5" y="18" font-family="Liberation Sans, sans-serif" font-size="6.5" font-weight="bold" fill="#474747">F</text>
<text x="792.4" y="14" font-family="Liberation Sans, sans-serif" font-size="12.4" fill="#484848" stroke="#484848" stroke-width="0.25">A</text>
<rect x="819" y="3" width="1" height="1" fill="#474747"/>
<rect x="819" y="15" width="1" height="1" fill="#474747"/>
<rect x="821" y="3" width="1" height="1" fill="#474747"/>
<rect x="821" y="15" width="1" height="1" fill="#474747"/>
<rect x="823" y="3" width="1" height="1" fill="#474747"/>
<rect x="823" y="15" width="1" height="1" fill="#474747"/>
<rect x="825" y="3" width="1" height="1" fill="#474747"/>
<rect x="825" y="15" width="1" height="1" fill="#474747"/>
<rect x="827" y="3" width="1" height="1" fill="#474747"/>
<rect x="827" y="15" width="1" height="1" fill="#474747"/>
<rect x="829" y="3" width="1" height="1" fill="#474747"/>
<rect x="829" y="15" width="1" height="1" fill="#474747"/>
<rect x="831" y="3" width="1" height="1" fill="#474747"/>
<rect x="831" y="15" width="1" height="1" fill="#474747"/>
<rect x="819" y="3" width="1" height="1" fill="#474747"/>
<rect x="831" y="3" width="1" height="1" fill="#474747"/>
<rect x="819" y="5" width="1" height="1" fill="#474747"/>
<rect x="831" y="5" width="1" height="1" fill="#474747"/>
<rect x="819" y="7" width="1" height="1" fill="#474747"/>
<rect x="831" y="7" width="1" height="1" fill="#474747"/>
<rect x="819" y="9" width="1" height="1" fill="#474747"/>
<rect x="831" y="9" width="1" height="1" fill="#474747"/>
<rect x="819" y="11" width="1" height="1" fill="#474747"/>
<rect x="831" y="11" width="1" height="1" fill="#474747"/>
<rect x="819" y="13" width="1" height="1" fill="#474747"/>
<rect x="831" y="13" width="1" height="1" fill="#474747"/>
<rect x="819" y="15" width="1" height="1" fill="#474747"/>
<rect x="831" y="15" width="1" height="1" fill="#474747"/>
<rect x="821" y="6" width="8" height="1.4" fill="#474747"/>
<rect x="824.3" y="6" width="1.4" height="8" fill="#474747"/>
<polygon points="849.5,3 845.8,6.7 848.2,6.7 848.2,7.8 850.8,7.8 850.8,6.7 853.1,6.7" fill="#474747" shape-rendering="auto"/>
<polygon points="856.4,16 852.9,12.2 855.3,12.2 855.3,11.1 857.7,11.1 857.7,12.2 859.9,12.2" fill="#474747" shape-rendering="auto"/>
<polyline points="848.2,10.3 850.3,12.4 854.7,7.4" fill="none" stroke="#474747" stroke-width="1.3" shape-rendering="auto"/>
<polygon points="866.5,8 872.5,8 869.5,11" fill="#000" shape-rendering="auto"/>
<rect x="878" y="0" width="1" height="21" fill="#A0A0A0"/>
<rect x="879" y="0" width="1" height="21" fill="#FFFFFF"/>
<rect x="882" y="1" width="3" height="1" fill="#9A9A9A"/>
<rect x="882" y="3" width="3" height="1" fill="#9A9A9A"/>
<rect x="882" y="5" width="3" height="1" fill="#9A9A9A"/>
<rect x="882" y="7" width="3" height="1" fill="#9A9A9A"/>
<rect x="882" y="9" width="3" height="1" fill="#9A9A9A"/>
<rect x="882" y="11" width="3" height="1" fill="#9A9A9A"/>
<rect x="882" y="13" width="3" height="1" fill="#9A9A9A"/>
<rect x="882" y="15" width="3" height="1" fill="#9A9A9A"/>
<rect x="882" y="17" width="3" height="1" fill="#9A9A9A"/>
<rect x="1056" y="0" width="1" height="19" fill="#A0A0A0"/>
<rect x="1057" y="0" width="24" height="19" fill="url(#chk)"/>
<rect x="1057" y="19" width="24" height="1" fill="#FFFFFF"/>
<text x="893.5" y="13" class="tb">M1</text>
<text x="921.8" y="13" class="tb">M5</text>
<text x="947.5" y="13" class="tb">M15</text>
<text x="975.4" y="13" class="tb">M30</text>
<text x="1006.6" y="13" class="tb">H1</text>
<text x="1033.6" y="13" class="tb">H4</text>
<text x="1062.4" y="13" class="tb">D1</text>
<text x="1089.9" y="13" class="tb">W1</text>
<text x="1116.6" y="13" class="tb">MN</text>
<rect x="1139" y="0" width="1" height="21" fill="#A0A0A0"/>
<rect x="1140" y="0" width="1" height="21" fill="#FFFFFF"/>
<circle cx="1609.5" cy="6.3" r="3.9" fill="#FFFFFF" stroke="#2060D0" stroke-width="1.5" shape-rendering="auto"/>
<line x1="1606.6" y1="9.3" x2="1602.6" y2="13.6" stroke="#1850C0" stroke-width="2.6" stroke-linecap="round" shape-rendering="auto"/>
<path d="M1631,16.8 L1629.6,17.6 L1630,15.5 C1626,14.5 1626,7.5 1632,7 C1638,6.8 1639,15 1631,16.8 Z" fill="#E4E4EC" stroke="#9A9A9A" stroke-width="1" shape-rendering="auto"/>
<circle cx="1640.5" cy="6.6" r="8.3" fill="url(#redb)" shape-rendering="auto"/>
<text x="1639.5" y="11" text-anchor="middle" font-family="Liberation Serif, serif" font-size="12.8" font-weight="bold" fill="#FFFFFF">1</text>
</svg>
</body></html>
